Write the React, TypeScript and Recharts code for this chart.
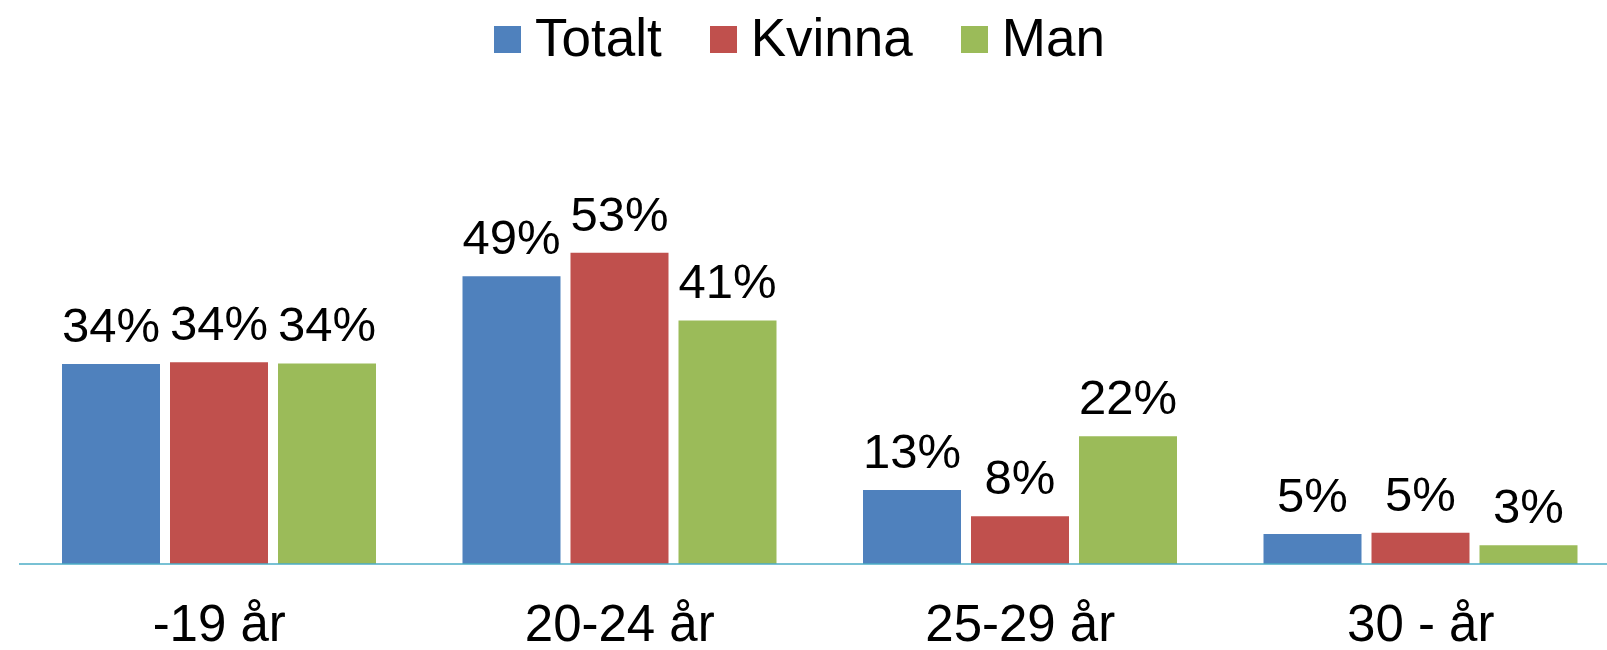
import React from 'react';
import { BarChart, Bar, XAxis, YAxis, Legend, LabelList } from 'recharts';

const categories = ['-19 år', '20-24 år', '25-29 år', '30 - år'];
const totalt = [34.0, 48.9, 12.6, 5.1];
const kvinna = [34.3, 52.9, 8.1, 5.3];
const man = [34.1, 41.4, 21.7, 3.2];

const seriesNames = ['Totalt', 'Kvinna', 'Man'];
const colors = ['#4F81BD', '#C0504D', '#9BBB59'];

const data = categories.map((c, i) => ({
  name: c,
  Totalt: totalt[i],
  Kvinna: kvinna[i],
  Man: man[i],
}));

const FONT = '"Liberation Sans", Arial, sans-serif';

const LegendContent = () => {
  return (
    <div
      style={{
        display: 'flex',
        alignItems: 'center',
        height: 52,
        paddingLeft: 494,
        fontFamily: FONT,
        fontSize: 53,
        lineHeight: '52px',
        color: '#000',
        whiteSpace: 'nowrap',
      }}
    >
      {seriesNames.map((s, i) => (
        <div key={s} style={{ display: 'flex', alignItems: 'center', marginRight: 48 }}>
          <div style={{ width: 27, height: 27, background: colors[i], marginRight: 14, marginTop: 2 }} />
          <span>{s}</span>
        </div>
      ))}
    </div>
  );
};

export default function App() {
  return (
    <div
      style={{
        position: 'fixed',
        left: 0,
        top: 0,
        width: 1607,
        height: 650,
        overflow: 'hidden',
        background: '#fff',
      }}
    >
      <BarChart
        width={1621}
        height={650}
        data={data}
        margin={{ top: 12, right: 0, left: 19, bottom: 0 }}
        barSize={98}
        barGap={10}
      >
        <Legend
          verticalAlign="top"
          align="left"
          content={LegendContent}
          wrapperStyle={{ left: 0, width: 1607, height: 52 }}
        />
        <XAxis
          dataKey="name"
          axisLine={{ stroke: '#4BACC6', strokeWidth: 1.5 }}
          tickLine={false}
          tickSize={0}
          tickMargin={41}
          height={86}
          interval={0}
          tick={{ fill: '#000', fontSize: 51, fontFamily: FONT }}
        />
        <YAxis hide domain={[0, 85]} />
        {seriesNames.map((s, i) => (
          <Bar key={s} dataKey={s} name={s} fill={colors[i]} isAnimationActive={false}>
            <LabelList
              dataKey={s}
              position="top"
              offset={22}
              formatter={(v: any) => Math.round(Number(v)) + '%'}
              style={{ fill: '#000', fontSize: 49, fontFamily: FONT }}
            />
          </Bar>
        ))}
      </BarChart>
    </div>
  );
}
